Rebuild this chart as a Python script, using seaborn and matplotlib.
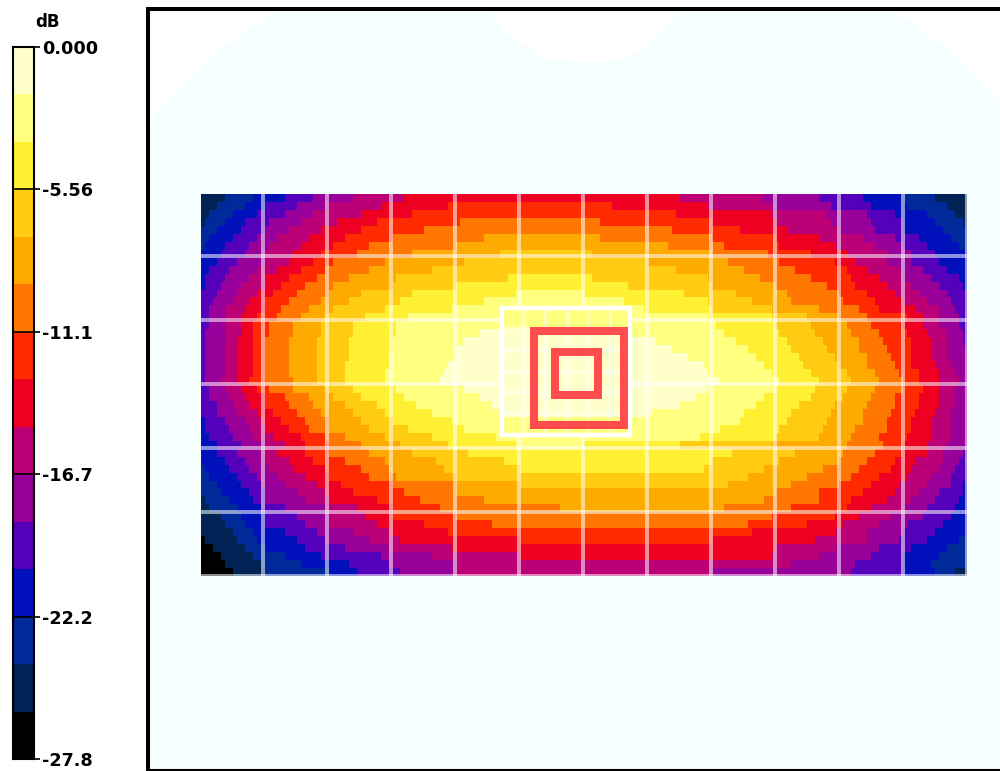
import numpy as np
import matplotlib
matplotlib.use("Agg")
import matplotlib.pyplot as plt
from matplotlib.colors import ListedColormap
from matplotlib.patches import Polygon, Rectangle
import seaborn as sns

# colour bands, top of the scale first
band_colors = ["#FFFFCC", "#FFFF80", "#FFF033", "#FFCC11", "#FFAA00", "#FF7700", "#FF2A00", "#EE0022",
               "#BB0077", "#990099", "#5500BB", "#0011BB", "#002A99", "#002255", "#000000"]
scale_ticks = [0, 3, 6, 9, 12, 15]
scale_labels = ["0.000", "-5.56", "-11.1", "-16.7", "-22.2", "-27.8"]

# band at the left edge of each row
start_band = [13, 13, 13, 13, 12, 12, 12, 11, 11, 11, 11, 11, 10, 10, 10, 10,
              10, 10, 10, 10, 10, 10, 10, 10, 10, 10, 10, 10, 11, 11, 11, 11,
              11, 11, 12, 12, 12, 12, 13, 13, 13, 13, 13, 14, 14, 14, 14, 14]
# columns where the band steps up towards the middle
left_steps = [
    [6, 13, 21, 28, 38, 51], [4, 11, 16, 24, 31, 45, 62], [2, 8, 14, 21, 28, 40, 53],
    [1, 6, 11, 17, 25, 34, 44, 65], [4, 10, 16, 22, 30, 40, 56], [2, 8, 14, 19, 27, 36, 48, 71],
    [1, 6, 12, 17, 25, 33, 42, 64], [5, 11, 16, 23, 30, 39, 53, 75], [4, 9, 16, 22, 28, 33, 46, 66],
    [2, 7, 14, 19, 25, 31, 42, 58], [1, 6, 12, 16, 22, 29, 37, 49, 77], [1, 5, 10, 16, 20, 26, 33, 48, 64],
    [4, 9, 14, 18, 24, 32, 40, 53, 79], [3, 8, 12, 16, 22, 30, 37, 50, 71], [2, 6, 11, 16, 20, 27, 33, 46, 63],
    [2, 6, 10, 14, 19, 25, 31, 41, 52], [2, 6, 10, 13, 17, 23, 30, 38, 49], [1, 6, 10, 13, 17, 23, 30, 38, 49, 70],
    [1, 6, 9, 13, 16, 22, 29, 37, 48, 66], [1, 6, 9, 13, 16, 22, 29, 37, 48, 64], [1, 6, 9, 13, 16, 22, 29, 37, 47, 64],
    [1, 6, 9, 13, 16, 22, 29, 36, 47, 62], [1, 6, 9, 13, 16, 22, 29, 36, 46, 61], [1, 5, 9, 12, 16, 23, 29, 36, 46, 60],
    [2, 6, 10, 14, 17, 23, 31, 38, 49, 66], [2, 7, 11, 16, 21, 27, 33, 40, 51, 70], [4, 8, 12, 16, 22, 28, 36, 44, 54, 73],
    [4, 9, 14, 18, 24, 30, 38, 46, 58, 76], [1, 6, 11, 15, 20, 26, 32, 40, 48, 63], [1, 7, 12, 16, 22, 27, 32, 42, 52, 66],
    [2, 8, 13, 18, 25, 31, 36, 46, 58, 74], [4, 10, 16, 21, 26, 32, 40, 50, 62, 79], [4, 9, 15, 19, 26, 32, 42, 53, 67],
    [6, 11, 16, 22, 28, 36, 46, 59, 76], [1, 7, 12, 17, 23, 31, 40, 47, 61, 80], [2, 9, 14, 19, 26, 32, 42, 49, 64],
    [4, 10, 15, 21, 29, 35, 48, 64, 80], [5, 12, 16, 24, 31, 38, 51, 64], [1, 7, 13, 16, 26, 32, 44, 55, 71],
    [2, 9, 15, 21, 31, 39, 48, 60, 90], [5, 10, 16, 24, 32, 41, 48, 64], [6, 11, 16, 26, 32, 44, 56, 73],
    [8, 13, 21, 29, 38, 47, 62], [1, 9, 14, 24, 31, 42, 50, 80], [3, 11, 16, 26, 36, 47, 63],
    [5, 13, 21, 30, 45, 58, 80], [6, 15, 25, 37, 47, 64], [8, 16, 32, 39, 50, 64],
]
# columns where the band steps back down towards the right edge
right_steps = [
    [120, 141, 155, 166, 176, 184], [103, 127, 143, 158, 168, 177, 187], [119, 143, 157, 167, 174, 182, 189],
    [100, 128, 144, 158, 168, 176, 184, 191], [118, 135, 147, 160, 169, 176, 186], [100, 128, 144, 155, 166, 174, 180, 188],
    [117, 131, 145, 159, 169, 176, 182, 190], [98, 128, 142, 153, 162, 172, 178, 184], [112, 132, 145, 159, 164, 172, 178, 185],
    [119, 136, 149, 162, 167, 175, 181, 187], [98, 127, 140, 153, 163, 170, 176, 183, 190], [107, 128, 144, 157, 164, 172, 178, 185, 191],
    [96, 121, 134, 147, 160, 167, 174, 180, 187], [106, 127, 138, 148, 161, 169, 176, 182, 188], [111, 128, 143, 155, 165, 170, 179, 185, 189],
    [127, 143, 152, 160, 167, 177, 181, 185, 190], [129, 144, 153, 162, 168, 176, 181, 185, 190], [108, 131, 145, 154, 163, 170, 177, 182, 187, 191],
    [114, 134, 147, 156, 165, 171, 178, 183, 187, 191], [118, 137, 148, 157, 165, 172, 178, 183, 187], [122, 139, 150, 159, 167, 173, 178, 183, 187],
    [126, 141, 151, 160, 167, 174, 178, 184, 188], [127, 143, 153, 162, 169, 175, 180, 185, 189], [130, 145, 155, 163, 170, 176, 180, 185, 190],
    [127, 144, 154, 162, 169, 176, 181, 185, 189], [124, 141, 153, 161, 168, 174, 180, 185, 189], [120, 139, 150, 159, 167, 174, 180, 185, 189],
    [113, 136, 148, 158, 166, 173, 179, 184, 188], [135, 147, 157, 166, 172, 178, 183, 188], [130, 145, 156, 164, 172, 178, 183, 188],
    [125, 144, 155, 163, 170, 177, 183, 188], [96, 120, 143, 162, 171, 176, 182, 187], [133, 149, 161, 169, 176, 182, 186, 191],
    [128, 145, 160, 167, 174, 179, 186, 190], [126, 141, 156, 165, 173, 178, 185, 189], [137, 152, 163, 170, 177, 183, 188],
    [132, 148, 160, 168, 175, 182, 188, 191], [144, 155, 166, 174, 180, 185, 191], [141, 155, 163, 172, 178, 184, 190],
    [131, 148, 162, 168, 176, 182, 189], [143, 159, 165, 173, 181, 188], [137, 152, 161, 170, 177, 186],
    [138, 159, 167, 176, 184], [128, 154, 167, 175, 182, 190], [144, 159, 170, 178, 187],
    [143, 155, 168, 176, 185], [148, 164, 176, 183], [128, 163, 176, 184, 189],
]

# outline of the pale background, in image pixels
corner_left = [(150, 11), (277, 11), (247, 30), (230, 42), (207, 63), (160, 107), (150, 125)]
corner_notch = [(490, 11), (503, 32), (523, 45), (543, 57), (565, 62), (607, 62), (628, 57), (647, 45), (667, 28), (680, 11)]
corner_right = [(897, 11), (910, 22), (930, 37), (957, 55), (977, 75), (1000, 100), (1000, 11)]

n_cols = 192
field = []
for band, left, right in zip(start_band, left_steps, right_steps):
    mid = band - len(left)
    row = np.full(n_cols, mid)
    prev = 0
    for i, col in enumerate(left):
        row[prev:col] = band - i
        prev = col
    for i, col in enumerate(right):
        row[col:] = mid + 1 + i
    field.append(row)
field = np.array(field)

W, H = 1000, 771
cmap = ListedColormap(band_colors)

sns.set_theme(style="white")
plt.rcParams["font.family"] = ["DejaVu Sans"]
fig = plt.figure(figsize=(W / 100, H / 100), dpi=100)


def px_axes(x0, y0, x1, y1, **kw):
    return fig.add_axes([x0 / W, 1 - y1 / H, (x1 - x0) / W, (y1 - y0) / H], **kw)


# pale background behind everything
bg = px_axes(0, 0, W, H, zorder=0)
bg.set_xlim(0, W)
bg.set_ylim(H, 0)
bg.axis("off")
bg.add_patch(Rectangle((148, 9), 860, 770, fc="#F5FFFF", ec="none"))
for shape in [corner_left, corner_notch, corner_right]:
    bg.add_patch(Polygon(shape, closed=True, fc="white", ec="none"))

# main field
ax = px_axes(201, 194, 967, 576, zorder=1)
sns.heatmap(field, ax=ax, cmap=cmap, vmin=-0.5, vmax=14.5, cbar=False,
            xticklabels=False, yticklabels=False, rasterized=True)

# colour scale
ax_cb = px_axes(13, 47, 34, 759, zorder=1)
sns.heatmap(np.arange(15).reshape(-1, 1), ax=ax_cb, cmap=cmap, vmin=-0.5, vmax=14.5, cbar=False,
            xticklabels=False, yticklabels=False)
for s in ax_cb.spines.values():
    s.set_visible(True)
    s.set_color("black")
    s.set_linewidth(1.5)
ax_cb.hlines(scale_ticks[1:-1], 0, 1, color="black", lw=1.2)
ax_cb.yaxis.tick_right()
ax_cb.set_yticks(scale_ticks)
ax_cb.set_yticklabels(scale_labels, rotation=0, fontsize=12.7, fontweight="bold", color="black")
ax_cb.tick_params(axis="y", right=True, left=False, length=4, width=1.2, pad=2, color="black")

# overlay with the grid, the dense box and the red squares
ov = px_axes(0, 0, W, H, zorder=2)
ov.set_xlim(0, W)
ov.set_ylim(H, 0)
ov.axis("off")
ov.patch.set_alpha(0)

line_w = 2.9
for x in [263, 327, 391, 455, 647, 711, 775, 839, 903, 967]:
    ov.plot([x, x], [194, 576], color="white", alpha=0.55, lw=line_w, solid_capstyle="butt")
for x in [519, 583]:
    ov.plot([x, x], [194, 306], color="white", alpha=0.55, lw=line_w, solid_capstyle="butt")
    ov.plot([x, x], [436, 576], color="white", alpha=0.55, lw=line_w, solid_capstyle="butt")
for y in [256, 448, 512, 576]:
    ov.plot([201, 969], [y, y], color="white", alpha=0.55, lw=line_w, solid_capstyle="butt")
for y in [320, 384]:
    ov.plot([201, 502], [y, y], color="white", alpha=0.55, lw=line_w, solid_capstyle="butt")
    ov.plot([630, 969], [y, y], color="white", alpha=0.55, lw=line_w, solid_capstyle="butt")

for x in [523, 545, 567, 588, 610]:
    ov.plot([x, x], [307, 435], color="white", alpha=0.45, lw=2.4, solid_capstyle="butt")
for y in [328, 350, 371, 392, 413]:
    ov.plot([502, 630], [y, y], color="white", alpha=0.45, lw=2.4, solid_capstyle="butt")
ov.add_patch(Rectangle((502, 307.5), 128, 127.5, fc="none", ec="white", lw=3.2, zorder=3))

ov.add_patch(Rectangle((534, 331), 90, 94, fc="none", ec="#FF4D4D", lw=5.8, joinstyle="miter", zorder=4))
ov.add_patch(Rectangle((555, 352), 43, 43, fc="none", ec="#FF4D4D", lw=5.8, joinstyle="miter", zorder=4))

# black frame, runs off the right of the image
ov.plot([148, 148], [9, 771], color="black", lw=2.9, solid_capstyle="butt")
ov.plot([146, 1000], [9, 9], color="black", lw=2.9, solid_capstyle="butt")
ov.plot([146, 1000], [770, 770], color="black", lw=1.5, solid_capstyle="butt")

ov.text(48, 22, "dB", ha="center", va="center", fontsize=12, fontweight="bold", color="black")

plt.savefig("out.png", dpi=100)
